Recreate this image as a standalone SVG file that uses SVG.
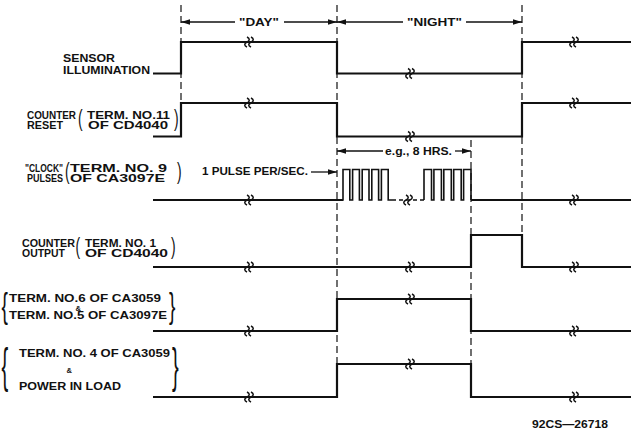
<svg xmlns="http://www.w3.org/2000/svg" width="631" height="434" viewBox="0 0 631 434">
<defs>
<style>
.t{font-family:"Liberation Sans",Arial,sans-serif;font-weight:bold;font-size:11px;fill:#111}
.s{font-family:"Liberation Sans",Arial,sans-serif;font-weight:bold;font-size:7.5px;fill:#111}
.br{font-family:"Liberation Sans",Arial,sans-serif;font-weight:normal;fill:#111}
.w{fill:none;stroke:#111;stroke-width:2.2;stroke-linejoin:miter}
.p{fill:none;stroke:#111;stroke-width:1.6}
.g{fill:none;stroke:#111;stroke-width:1.2;stroke-dasharray:7 4}
.d{fill:none;stroke:#111;stroke-width:1.3}
.q{fill:none;stroke:#111;stroke-width:1.5}
</style>
<marker id="ah" markerWidth="9" markerHeight="6" refX="9" refY="3" orient="auto" markerUnits="userSpaceOnUse">
<path d="M0,0.3 L9,3 L0,5.7 z" fill="#111"/>
</marker>
<path id="sq" d="M-3,-5 c3,1.5 3,3.5 0,5 c-3,1.5 -3,3.5 0,5 M1,-5 c3,1.5 3,3.5 0,5 c-3,1.5 -3,3.5 0,5"/>
</defs>
<rect width="631" height="434" fill="#fff"/>

<g id="connectors">
<line class="g" x1="181" y1="5" x2="181" y2="103"/>
<line class="g" x1="337" y1="5" x2="337" y2="364"/>
<line class="g" x1="522" y1="5" x2="522" y2="235"/>
<line class="g" x1="471" y1="140" x2="471" y2="364"/>
<line class="d" x1="235" y1="22" x2="181" y2="22" marker-end="url(#ah)"/>
<line class="d" x1="284" y1="22" x2="337" y2="22" marker-end="url(#ah)"/>
<line class="d" x1="403" y1="22" x2="337" y2="22" marker-end="url(#ah)"/>
<line class="d" x1="466" y1="22" x2="522" y2="22" marker-end="url(#ah)"/>
<line class="d" x1="383" y1="151" x2="337" y2="151" marker-end="url(#ah)"/>
<line class="d" x1="455" y1="151" x2="471" y2="151" marker-end="url(#ah)"/>
<line class="d" x1="311" y1="172" x2="337" y2="172" marker-end="url(#ah)"/>
<text class="t" x="239" y="26" textLength="40" lengthAdjust="spacingAndGlyphs">"DAY"</text>
<text class="t" x="407" y="26" textLength="55" lengthAdjust="spacingAndGlyphs">"NIGHT"</text>
<text class="t" x="385" y="155" textLength="67" lengthAdjust="spacingAndGlyphs">e.g., 8 HRS.</text>
<text class="t" x="202" y="175" textLength="106" lengthAdjust="spacingAndGlyphs">1 PULSE PER/SEC.</text>
</g>

<g id="sensor">
<text class="t" x="63" y="62" textLength="52" lengthAdjust="spacingAndGlyphs">SENSOR</text>
<text class="t" x="63" y="74" textLength="87" lengthAdjust="spacingAndGlyphs">ILLUMINATION</text>
<path class="w" d="M153,73.5 H181 V42 H337 V73.5 H522 V42 H631"/>
<use href="#sq" class="q" x="250" y="42"/>
<use href="#sq" class="q" x="411" y="73.5"/>
<use href="#sq" class="q" x="575" y="42"/>
</g>

<g id="counter-reset">
<text class="t" x="27" y="119" textLength="49" lengthAdjust="spacingAndGlyphs">COUNTER</text>
<text class="t" x="27" y="129" textLength="36" lengthAdjust="spacingAndGlyphs">RESET</text>
<text class="br" font-size="23" transform="translate(78,126) scale(0.6,1)">(</text>
<text class="t" x="87" y="119" textLength="83" lengthAdjust="spacingAndGlyphs">TERM. NO.11</text>
<text class="t" x="88" y="129" textLength="80" lengthAdjust="spacingAndGlyphs">OF CD4040</text>
<text class="br" font-size="23" transform="translate(174,126) scale(0.6,1)">)</text>
<path class="w" d="M153,136.5 H181 V103 H337 V136.5 H522 V103 H631"/>
<use href="#sq" class="q" x="250" y="103"/>
<use href="#sq" class="q" x="411" y="136.5"/>
<use href="#sq" class="q" x="575" y="103"/>
</g>

<g id="clock">
<text class="t" x="25" y="172" textLength="38" lengthAdjust="spacingAndGlyphs">"CLOCK"</text>
<text class="t" x="27" y="182" textLength="36" lengthAdjust="spacingAndGlyphs">PULSES</text>
<text class="br" font-size="23" transform="translate(65,179) scale(0.6,1)">(</text>
<text class="t" x="70" y="172" textLength="97" lengthAdjust="spacingAndGlyphs">TERM. NO. 9</text>
<text class="t" x="70" y="182" textLength="95" lengthAdjust="spacingAndGlyphs">OF CA3097E</text>
<text class="br" font-size="23" transform="translate(177,179) scale(0.6,1)">)</text>
<path class="w" d="M153,200 H343"/>
<path class="p" d="M337,200 H343 V169.5 H349.8 V200 H352.6 V169.5 H359.4 V200 H362.2 V169.5 H369 V200 H371.8 V169.5 H378.6 V200 H381.4 V169.5 H388.2 V200 H392"/>
<path class="p" d="M392,200 H424" stroke-dasharray="4 3"/>
<path class="p" d="M424,200 V169.5 H431.5 V200 H433.9 V169.5 H441.4 V200 H443.8 V169.5 H451.3 V200 H453.7 V169.5 H461.2 V200 H463.6 V169.5 H471 V200"/>
<path class="w" d="M471,200 H631"/>
<use href="#sq" class="q" x="250" y="200"/>
<use href="#sq" class="q" x="409" y="200"/>
<use href="#sq" class="q" x="575" y="200"/>
</g>

<g id="counter-output">
<text class="t" x="22" y="247" textLength="53" lengthAdjust="spacingAndGlyphs">COUNTER</text>
<text class="t" x="22" y="257" textLength="43" lengthAdjust="spacingAndGlyphs">OUTPUT</text>
<text class="br" font-size="23" transform="translate(75.5,254) scale(0.6,1)">(</text>
<text class="t" x="85" y="247" textLength="71" lengthAdjust="spacingAndGlyphs">TERM. NO. 1</text>
<text class="t" x="85" y="257" textLength="83" lengthAdjust="spacingAndGlyphs">OF CD4040</text>
<text class="br" font-size="23" transform="translate(171,254) scale(0.6,1)">)</text>
<path class="w" d="M153,267 H471 V235 H522 V267 H631"/>
<use href="#sq" class="q" x="250" y="267"/>
<use href="#sq" class="q" x="411" y="267"/>
<use href="#sq" class="q" x="575" y="267"/>
</g>

<g id="term6">
<text class="br" font-size="35" transform="translate(1.5,317.5) scale(0.55,1)">{</text>
<text class="t" x="9" y="302" textLength="152" lengthAdjust="spacingAndGlyphs">TERM. NO.6 OF CA3059</text>
<text class="s" x="75.5" y="310.5">&amp;</text>
<text class="t" x="9" y="319" textLength="158" lengthAdjust="spacingAndGlyphs">TERM. NO.5 OF CA3097E</text>
<text class="br" font-size="35" transform="translate(169,317.5) scale(0.55,1)">}</text>
<path class="w" d="M153,331 H337 V299 H471 V331 H631"/>
<use href="#sq" class="q" x="250" y="331"/>
<use href="#sq" class="q" x="411" y="299"/>
<use href="#sq" class="q" x="575" y="331"/>
</g>

<g id="term4">
<text class="br" font-size="48" transform="translate(1.5,382) scale(0.42,1)">{</text>
<text class="t" x="19" y="357" textLength="151" lengthAdjust="spacingAndGlyphs">TERM. NO. 4 OF CA3059</text>
<text class="s" x="66.5" y="373">&amp;</text>
<text class="t" x="19" y="390" textLength="102" lengthAdjust="spacingAndGlyphs">POWER IN LOAD</text>
<text class="br" font-size="48" transform="translate(172,382) scale(0.42,1)">}</text>
<path class="w" d="M153,397 H337 V364 H471 V397 H631"/>
<use href="#sq" class="q" x="250" y="397"/>
<use href="#sq" class="q" x="411" y="364"/>
<use href="#sq" class="q" x="575" y="397"/>
</g>

<text class="t" x="532" y="428" textLength="76" lengthAdjust="spacingAndGlyphs" style="font-size:10.5px">92CS—26718</text>
</svg>
